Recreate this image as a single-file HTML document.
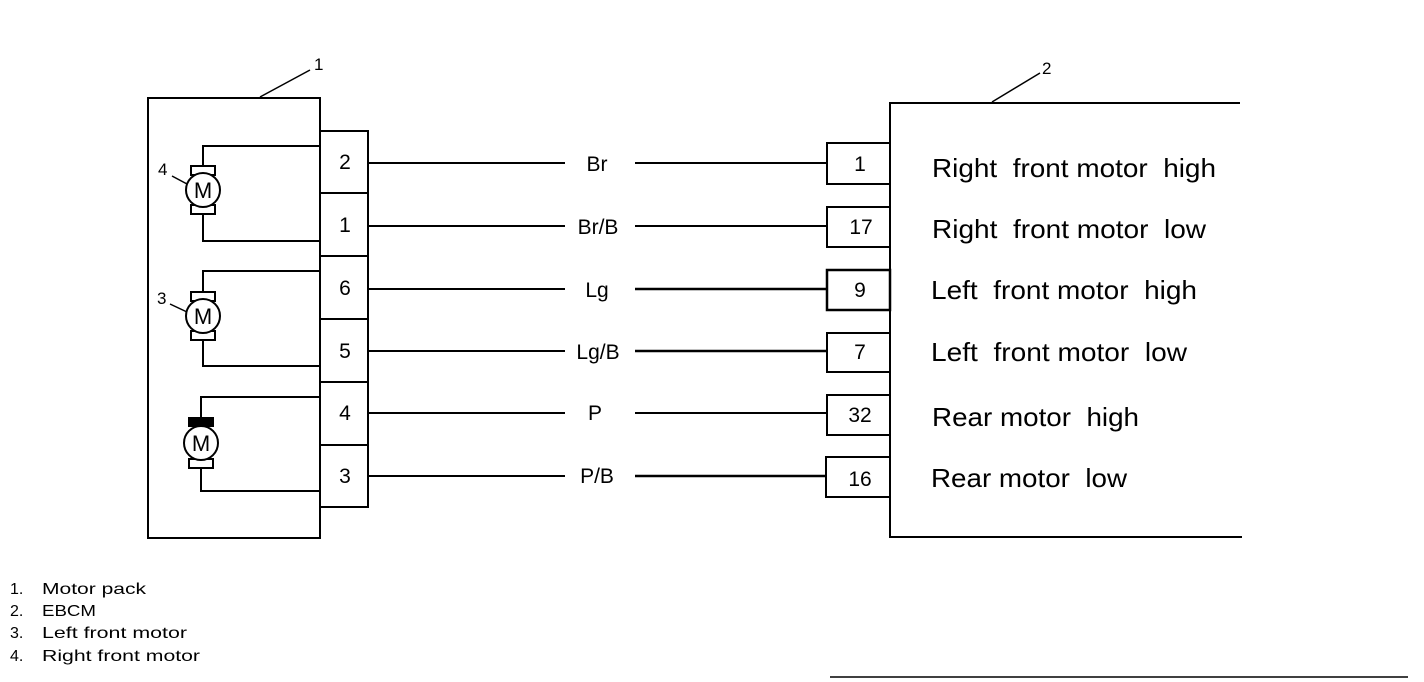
<!DOCTYPE html>
<html><head><meta charset="utf-8"><style>
html,body{margin:0;padding:0;background:#fff;}
svg{display:block;}
text{font-family:"Liberation Sans",sans-serif;fill:#000;white-space:pre;}
</style></head><body>
<svg width="1424" height="682" viewBox="0 0 1424 682" xmlns="http://www.w3.org/2000/svg" xml:space="preserve">
<g stroke="#000" fill="none" stroke-width="2">
<rect x="148" y="98" width="172" height="440"/>
<line x1="260" y1="97" x2="310" y2="70" stroke-width="1.5"/>
<rect x="320" y="131" width="48" height="376"/>
<line x1="320" y1="193" x2="368" y2="193"/>
<line x1="320" y1="256" x2="368" y2="256"/>
<line x1="320" y1="319" x2="368" y2="319"/>
<line x1="320" y1="382" x2="368" y2="382"/>
<line x1="320" y1="445" x2="368" y2="445"/>
<polyline points="320,146 203,146 203,166"/>
<polyline points="320,241 203,241 203,214"/>
<rect x="191" y="166" width="24" height="9"/><rect x="191" y="205" width="24" height="9"/>
<circle cx="203" cy="190" r="17" fill="#fff"/>
<line x1="172" y1="176" x2="187" y2="184" stroke-width="1.5"/>
<polyline points="320,271 203,271 203,292"/>
<polyline points="320,366 203,366 203,340"/>
<rect x="191" y="292" width="24" height="9"/><rect x="191" y="331" width="24" height="9"/>
<circle cx="203" cy="316" r="17" fill="#fff"/>
<line x1="170" y1="304" x2="187" y2="312" stroke-width="1.5"/>
<polyline points="320,397 201,397 201,418"/>
<polyline points="320,491 201,491 201,468"/>
<rect x="189" y="418" width="24" height="8" fill="#000"/><rect x="189" y="459" width="24" height="9"/>
<circle cx="201" cy="443" r="17" fill="#fff"/>
<line x1="368" y1="163" x2="565" y2="163"/><line x1="635" y1="163" x2="827" y2="163"/>
<line x1="368" y1="226" x2="565" y2="226"/><line x1="635" y1="226" x2="827" y2="226"/>
<line x1="368" y1="289" x2="565" y2="289"/><line x1="635" y1="289" x2="827" y2="289" stroke-width="2.5"/>
<line x1="368" y1="351" x2="565" y2="351"/><line x1="635" y1="351" x2="827" y2="351" stroke-width="2.5"/>
<line x1="368" y1="413" x2="565" y2="413"/><line x1="635" y1="413" x2="827" y2="413"/>
<line x1="368" y1="476" x2="565" y2="476"/><line x1="635" y1="476" x2="827" y2="476" stroke-width="2.5"/>
<rect x="827" y="143" width="63" height="41"/>
<rect x="827" y="207" width="63" height="40"/>
<rect x="827" y="270" width="63" height="40" stroke-width="2.5"/>
<rect x="827" y="333" width="63" height="39"/>
<rect x="827" y="395" width="63" height="40"/>
<rect x="826" y="457" width="64" height="40"/>
<polyline points="1240,103 890,103 890,537 1242,537"/>
<line x1="992" y1="102" x2="1040" y2="73" stroke-width="1.5"/>
<line x1="830" y1="677" x2="1408" y2="677" stroke-width="1.5"/>
</g>
<g font-size="22" text-anchor="middle">
<text x="203" y="198">M</text>
<text x="203" y="324">M</text>
<text x="201" y="451">M</text>
</g>
<g font-size="17">
<text x="314" y="70">1</text>
<text x="1042" y="74">2</text>
<text x="158" y="175">4</text>
<text x="157" y="304">3</text>
</g>
<g font-size="21" text-anchor="middle">
<text x="345" y="169">2</text><text x="345" y="232">1</text><text x="345" y="295">6</text>
<text x="345" y="358">5</text><text x="345" y="420">4</text><text x="345" y="483">3</text>
<text x="597" y="171">Br</text><text x="598" y="234">Br/B</text><text x="597" y="297">Lg</text>
<text x="598" y="359">Lg/B</text><text x="595" y="420">P</text><text x="597" y="483">P/B</text>
<text x="860" y="171">1</text><text x="861" y="234">17</text><text x="860" y="297">9</text>
<text x="860" y="359">7</text><text x="860" y="422">32</text><text x="860" y="486">16</text>
</g>
<g font-size="26">
<text x="932" y="177" textLength="284" lengthAdjust="spacingAndGlyphs">Right  front motor  high</text>
<text x="932" y="238" textLength="274" lengthAdjust="spacingAndGlyphs">Right  front motor  low</text>
<text x="931" y="299" textLength="266" lengthAdjust="spacingAndGlyphs">Left  front motor  high</text>
<text x="931" y="361" textLength="256" lengthAdjust="spacingAndGlyphs">Left  front motor  low</text>
<text x="932" y="426" textLength="207" lengthAdjust="spacingAndGlyphs">Rear motor  high</text>
<text x="931" y="487" textLength="196" lengthAdjust="spacingAndGlyphs">Rear motor  low</text>
</g>
<g font-size="16">
<text x="10" y="594">1.</text><text x="42" y="594" textLength="104" lengthAdjust="spacingAndGlyphs">Motor pack</text>
<text x="10" y="616">2.</text><text x="42" y="616" textLength="54" lengthAdjust="spacingAndGlyphs">EBCM</text>
<text x="10" y="638">3.</text><text x="42" y="638" textLength="145" lengthAdjust="spacingAndGlyphs">Left front motor</text>
<text x="10" y="661">4.</text><text x="42" y="661" textLength="158" lengthAdjust="spacingAndGlyphs">Right front motor</text>
</g>
</svg>
</body></html>
